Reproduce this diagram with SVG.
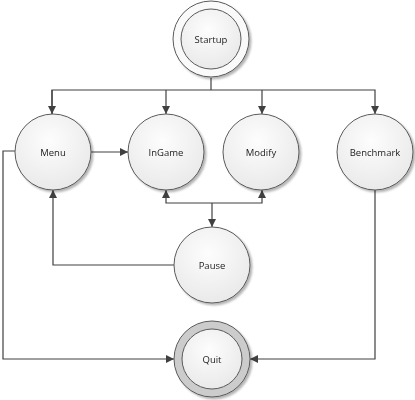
<svg xmlns="http://www.w3.org/2000/svg" width="415" height="400" viewBox="0 0 415 400">
<defs>
<radialGradient id="g" cx="0.45" cy="0.35" r="0.7">
<stop offset="0" stop-color="#fdfdfd"/>
<stop offset="1" stop-color="#e8e8e8"/>
</radialGradient>
<filter id="sh" x="-20%" y="-20%" width="150%" height="150%">
<feGaussianBlur in="SourceAlpha" stdDeviation="1.2"/>
<feOffset dx="1.5" dy="1.5" result="b"/>
<feComponentTransfer><feFuncA type="linear" slope="0.3"/></feComponentTransfer>
<feMerge><feMergeNode/><feMergeNode in="SourceGraphic"/></feMerge>
</filter>
<marker id="ar" viewBox="0 0 10 10" refX="10" refY="5" markerWidth="8" markerHeight="8" markerUnits="userSpaceOnUse" orient="auto">
<path d="M0,0 L10,5 L0,10 z" fill="#404040"/>
</marker>
</defs>
<style>
.n{fill:url(#g);stroke:#5a5a5a;stroke-width:1}
.t{font-family:"Open Sans","Noto Sans",sans-serif;font-size:9.5px;fill:#222;text-anchor:middle;dominant-baseline:central}
.c{fill:none;stroke:#404040;stroke-width:1.2}
</style>
<g id="connectors">
<path class="c" d="M211,78 V90"/>
<path class="c" d="M52,114 V90 H375 V114" marker-end="url(#ar)"/>
<path class="c" d="M52,90 V114" marker-end="url(#ar)"/>
<path class="c" d="M166,90 V114" marker-end="url(#ar)"/>
<path class="c" d="M262,90 V114" marker-end="url(#ar)"/>
<path class="c" d="M91,152 H128" marker-end="url(#ar)"/>
<path class="c" d="M15,151 H3 V359 H174" marker-end="url(#ar)"/>
<path class="c" d="M375,190 V359 H250" marker-end="url(#ar)"/>
<path class="c" d="M174,265 H53 V190" marker-end="url(#ar)"/>
<path class="c" d="M212,203 H166 V190" marker-end="url(#ar)"/>
<path class="c" d="M212,203 H262 V190" marker-end="url(#ar)"/>
<path class="c" d="M212,203 V227" marker-end="url(#ar)"/>
</g>
<g id="startup" filter="url(#sh)">
<circle cx="211" cy="39" r="38" fill="#fafafa" stroke="#5a5a5a"/>
<circle class="n" cx="211" cy="39" r="30"/>
<text class="t" x="211" y="39">Startup</text>
</g>
<g id="menu" filter="url(#sh)">
<circle class="n" cx="53" cy="152" r="38"/>
<text class="t" x="53" y="152">Menu</text>
</g>
<g id="ingame" filter="url(#sh)">
<circle class="n" cx="166" cy="152" r="38"/>
<text class="t" x="166" y="152">InGame</text>
</g>
<g id="modify" filter="url(#sh)">
<circle class="n" cx="261" cy="152" r="38"/>
<text class="t" x="261" y="152">Modify</text>
</g>
<g id="benchmark" filter="url(#sh)">
<circle class="n" cx="375" cy="152" r="38"/>
<text class="t" x="375" y="152">Benchmark</text>
</g>
<g id="pause" filter="url(#sh)">
<circle class="n" cx="212" cy="265" r="38"/>
<text class="t" x="212" y="265">Pause</text>
</g>
<g id="quit" filter="url(#sh)">
<circle cx="212" cy="359" r="38" fill="#cccccc" stroke="#5a5a5a"/>
<circle class="n" cx="212" cy="359" r="30"/>
<text class="t" x="212" y="359">Quit</text>
</g>
</svg>
